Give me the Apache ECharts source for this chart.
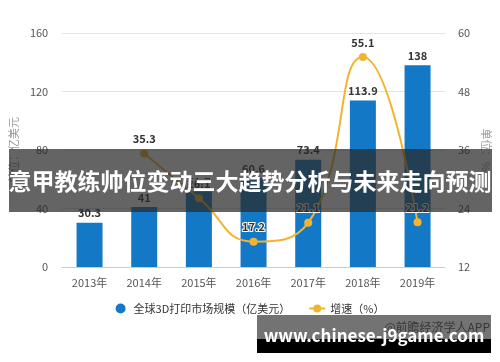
<!DOCTYPE html>
<html><head><meta charset="utf-8">
<script src="https://cdn.jsdelivr.net/npm/echarts@6/dist/echarts.min.js"></script>
<style>html,body{margin:0;padding:0;background:#fff}#c{width:500px;height:362px}</style>
</head><body><div id="c"></div>
<script>
const categories = ['2013年','2014年','2015年','2016年','2017年','2018年','2019年'];
const marketSize = [30.3, 41, 51.7, 60.6, 73.4, 113.9, 138];
const growthRate = [null, 35.3, 26.1, 17.2, 21.1, 55.1, 21.2];
const leftTicks = {min: 0, max: 160, interval: 40};
const rightTicks = {min: 12, max: 60, interval: 12};
const barName = '全球3D打印市场规模（亿美元）';
const lineName = '增速（%）';
const bannerTitle = '意甲教练帅位变动三大趋势分析与未来走向预测';
const siteText = 'www.chinese-j9game.com';
const sourceText = '@前瞻经济学人APP';

const font = '"Noto Sans CJK SC", "Noto Sans", sans-serif';
const chart = echarts.init(document.getElementById('c'));
chart.setOption({
  animation: false,
  textStyle: {fontFamily: font},
  grid: {left: 58, right: 51, top: 33, bottom: 95, containLabel: false},
  legend: {
    bottom: 43, left: 'center', itemGap: 18, itemWidth: 16, itemHeight: 10,
    textStyle: {fontSize: 11, color: '#333', fontFamily: font},
    data: [{name: barName, icon: 'circle'}, {name: lineName}]
  },
  xAxis: {
    type: 'category', data: categories,
    axisLine: {lineStyle: {color: '#ccc'}},
    axisTick: {alignWithLabel: true, lineStyle: {color: '#ccc'}},
    axisLabel: {color: '#555', fontSize: 11, margin: 10}
  },
  yAxis: [{
    type: 'value', min: leftTicks.min, max: leftTicks.max, interval: leftTicks.interval,
    name: '单位：亿美元', nameLocation: 'middle', nameGap: 38,
    nameTextStyle: {color: '#999', fontSize: 11},
    axisLine: {show: false}, axisTick: {show: false},
    axisLabel: {color: '#555', fontSize: 11, margin: 14},
    splitLine: {lineStyle: {color: '#e3e3e3'}}
  }, {
    type: 'value', min: rightTicks.min, max: rightTicks.max, interval: rightTicks.interval,
    name: '单位：%', nameLocation: 'middle', nameGap: 34, nameRotate: -90,
    nameTextStyle: {color: '#999', fontSize: 11},
    axisLine: {show: false}, axisTick: {show: false},
    axisLabel: {color: '#555', fontSize: 11, margin: 13},
    splitLine: {show: false}
  }],
  series: [{
    name: barName, type: 'bar', data: marketSize, barWidth: 26,
    itemStyle: {color: '#1379C7'},
    label: {show: true, position: 'top', color: '#333', fontSize: 11, fontWeight: 'bold', distance: 4}
  }, {
    name: lineName, type: 'line', yAxisIndex: 1, data: growthRate, smooth: 0.5,
    symbol: 'circle', symbolSize: 8,
    lineStyle: {color: '#F2B430', width: 2},
    itemStyle: {color: '#F2B430'},
    label: {show: true, position: 'top', color: '#333', fontSize: 11, fontWeight: 'bold',
      textBorderColor: '#fff', textBorderWidth: 2, distance: 5}
  }],
  graphic: [
    {type: 'rect', z: 100, shape: {x: 9, y: 149, width: 483, height: 63}, style: {fill: 'rgba(40,40,40,0.72)'}},
    {type: 'text', z: 101, x: 250, y: 181, style: {text: bannerTitle, fill: '#fff', font: 'bold 23px ' + font, textAlign: 'center', textVerticalAlign: 'middle'}},
    {type: 'text', z: 90, x: 490, y: 327, style: {text: sourceText, fill: '#555', font: '12px ' + font, textAlign: 'right', textVerticalAlign: 'middle'}},
    {type: 'rect', z: 100, shape: {x: 257, y: 315, width: 234, height: 24}, style: {fill: 'rgba(40,40,40,0.65)'}},
    {type: 'rect', z: 100, shape: {x: 257, y: 339, width: 234, height: 14}, style: {fill: '#000'}},
    {type: 'text', z: 101, x: 374, y: 336, style: {text: siteText, fill: '#fff', font: 'bold 17px ' + font, textAlign: 'center', textVerticalAlign: 'middle'}}
  ]
});
</script></body></html>
